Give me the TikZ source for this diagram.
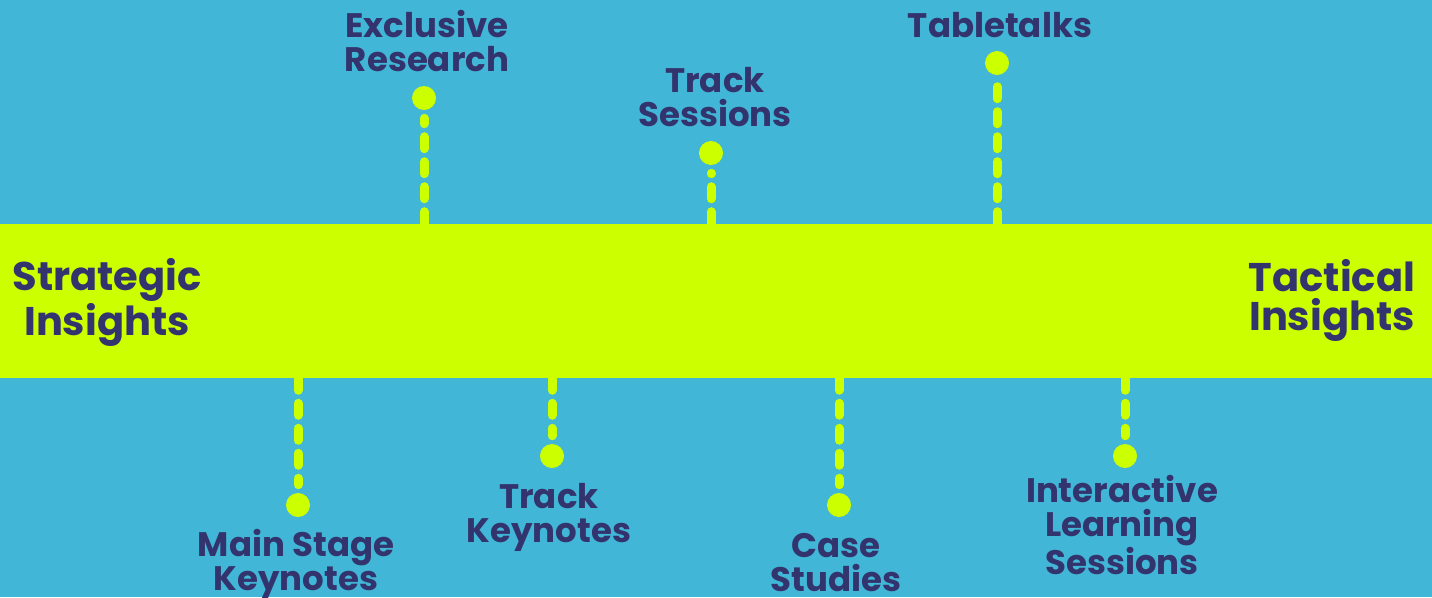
\documentclass[tikz,border=0pt]{standalone}
\usepackage{fontspec}
\setmainfont{Poppins}
\definecolor{sky}{HTML}{41B6D6}
\definecolor{lime}{HTML}{CCFF00}
\definecolor{ink}{HTML}{33346E}
\begin{document}
\begin{tikzpicture}[x=0.75pt,y=-0.75pt,
  bandbox/.style={fill=lime, inner sep=0pt, minimum width=1074pt, minimum height=115.5pt},
  dot/.style={circle, fill=lime, inner sep=0pt, minimum size=18pt},
  stem/.style={draw=lime, line width=6.75pt, line cap=round,
               dash pattern=on 9pt off 9.75pt, shorten >=6pt},
  % multi-line nodes sit on the baseline of their last line
  itemtext/.style={text=ink, font=\bfseries\fontsize{25.5}{25.5}\selectfont,
                   align=center, anchor=base, inner sep=0pt},
  endtext/.style={text=ink, align=center, anchor=base, inner sep=0pt}
]
% canvas
\fill[sky] (0,0) rectangle (1432,597);
\useasboundingbox (0,0) rectangle (1432,597);

% the horizontal band
\node[bandbox] (band) at (716,301) {};

% milestone dots
\node[dot] (ex) at (424,98)  {};
\node[dot] (ts) at (711,153) {};
\node[dot] (tt) at (997,63)  {};
\node[dot] (ms) at (298,505) {};
\node[dot] (tk) at (552,456) {};
\node[dot] (cs) at (839,505) {};
\node[dot] (il) at (1125,456) {};

% dashed stems from the band to each dot
\draw[stem] (ex |- band.north) -- (ex);
\draw[stem] (ts |- band.north) -- (ts);
\draw[stem] (tt |- band.north) -- (tt);
\draw[stem] (ms |- band.south) -- (ms);
\draw[stem] (tk |- band.south) -- (tk);
\draw[stem] (cs |- band.south) -- (cs);
\draw[stem] (il |- band.south) -- (il);

% item labels
\node[itemtext] (exl) at (427,71)  {Exclusive\\Research};
\node[itemtext] (tsl) at (715,126.5) {Track\\Sessions};
\node[itemtext] (ttl) at (1000,37) {Tabletalks};
\node[itemtext] (msl) at (296,590.7) {Main Stage\\Keynotes};
\node[itemtext] (tkl) at (549,542) {Track\\Keynotes};
\node[itemtext] (csl) at (836,591) {Case\\Studies};
\node[itemtext] (ill) at (1122,574) {Interactive\\Learning\\Sessions};

% band end labels
\node[endtext, font=\bfseries\fontsize{30}{31.3}\selectfont] (strat) at (107,335) {Strategic\\Insights};
\node[endtext, font=\bfseries\fontsize{30}{28.7}\selectfont] (tact) at (1332,330) {Tactical\\Insights};
\end{tikzpicture}
\end{document}
